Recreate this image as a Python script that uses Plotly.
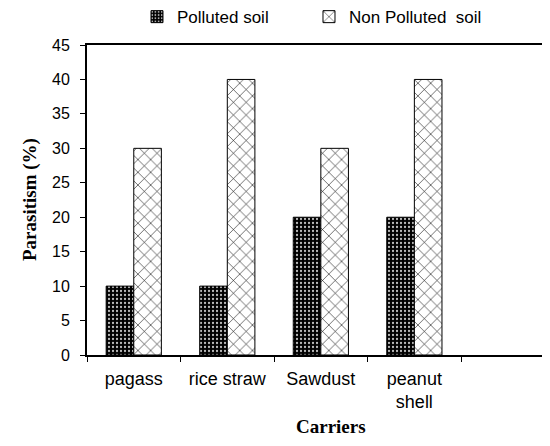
import plotly.graph_objects as go

categories = ["pagass", "rice straw", "Sawdust", "peanut<br>shell"]
polluted = [10, 10, 20, 20]
non_polluted = [30, 40, 30, 40]
y_ticks = [0, 5, 10, 15, 20, 25, 30, 35, 40, 45]

fig = go.Figure()
fig.add_trace(go.Bar(
    x=categories, y=polluted, name="Polluted soil",
    marker=dict(color="black", line=dict(color="black", width=1),
                pattern=dict(shape=".", bgcolor="black", fgcolor="#bbbbbb", size=4, solidity=0.25, fillmode="replace")),
))
fig.add_trace(go.Bar(
    x=categories, y=non_polluted, name="Non Polluted  soil",
    marker=dict(color="white", line=dict(color="black", width=1),
                pattern=dict(shape="x", bgcolor="white", fgcolor="black", size=9, solidity=0.12, fillmode="replace")),
))

fig.update_layout(
    width=542, height=430,
    margin=dict(l=79, r=0, t=37, b=83, autoexpand=False),
    paper_bgcolor="white", plot_bgcolor="white",
    barmode="group", bargap=0.41, bargroupgap=0,
    font=dict(family="Liberation Sans, Arial", size=17, color="black"),
    legend=dict(orientation="h", x=0.238, xanchor="left", y=1.09, yanchor="middle",
                yref="paper", xref="container", font=dict(size=17), itemwidth=30,
                traceorder="normal", entrywidth=127, tracegroupgap=0),
    showlegend=True,
    annotations=[
        dict(text="<b>Carriers</b>", xref="paper", yref="paper", x=0.527, y=0,
             yshift=-71, xanchor="center", yanchor="middle", showarrow=False,
             font=dict(family="Liberation Serif, Times New Roman", size=19)),
        dict(text="<b>Parasitism (%)</b>", xref="paper", yref="paper", x=0, y=0.5,
             xshift=-57, xanchor="center", yanchor="middle", textangle=-90, showarrow=False,
             font=dict(family="Liberation Serif, Times New Roman", size=19)),
    ],
)
fig.update_xaxes(
    type="category", range=[-0.5, 4.45], tickson="boundaries", automargin=False,
    ticks="outside", ticklen=5, tickcolor="black", tickwidth=1, tickfont=dict(size=18),
    ticklabelstandoff=6,
    showline=True, linecolor="black", linewidth=2, mirror=True,
    showgrid=False,
)
fig.update_yaxes(
    range=[0, 45], tickvals=y_ticks, ticks="outside", ticklen=5, tickcolor="black", automargin=False,
    tickfont=dict(size=16), ticklabelstandoff=7,
    showline=True, linecolor="black", linewidth=2, showgrid=False, zeroline=False,
)
fig.write_html("out.html")
